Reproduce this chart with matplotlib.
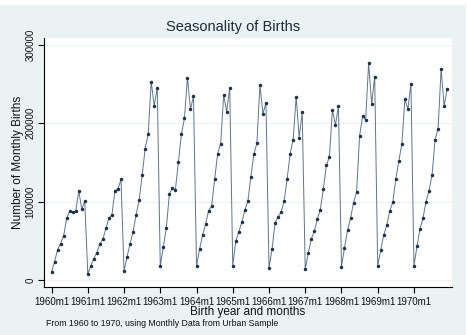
import matplotlib
matplotlib.use("Agg")
import matplotlib.pyplot as plt
import numpy as np
from matplotlib.patches import Rectangle

years = list(range(1960, 1971))
births_1960 = [10250, 23500, 38400, 46500, 56400, 78600, 87500, 86300, 87500, 113600, 90500, 100300]
births_1961 = [7700, 17900, 27300, 35000, 46100, 52100, 65800, 78600, 83300, 114000, 116100, 128100]
births_1962 = [11100, 29900, 46100, 61500, 83300, 101600, 133200, 167400, 186200, 252800, 221600, 245100]
births_1963 = [17900, 41800, 65800, 109300, 117000, 114900, 150300, 185700, 205800, 257900, 217800, 234000]
births_1964 = [17900, 38900, 57200, 70900, 88400, 93900, 128100, 161000, 173800, 235700, 214400, 245100]
births_1965 = [17900, 49500, 61500, 73400, 88800, 100300, 131500, 160600, 174200, 248500, 211800, 225500]
births_1966 = [15400, 38900, 72600, 80700, 86300, 100800, 128100, 161000, 178900, 233100, 181500, 213500]
births_1967 = [13700, 34200, 52100, 61900, 77700, 89700, 115700, 146000, 156700, 216900, 197300, 221600]
births_1968 = [17100, 41000, 63200, 78600, 98600, 111900, 183600, 208800, 203700, 276700, 224200, 259200]
births_1969 = [17900, 38400, 57200, 70000, 88000, 99100, 129000, 152000, 173400, 230200, 217800, 250200]
births_1970 = [17900, 42700, 64900, 79000, 99900, 113600, 134100, 178900, 193000, 269000, 221600, 243400]

births = (births_1960 + births_1961 + births_1962 + births_1963 + births_1964 +
          births_1965 + births_1966 + births_1967 + births_1968 + births_1969 + births_1970)
month_index = np.arange(len(births))
xtick_pos = [12 * i for i in range(len(years))]
xtick_labels = [f"{y}m1" for y in years]
ytick_pos = [0, 100000, 200000, 300000]
ytick_labels = ["0", "100000", "200000", "300000"]

plt.rcParams['font.family'] = ['Liberation Sans', 'DejaVu Sans']

bg = '#eaf2f3'
fig = plt.figure(figsize=(4.67, 3.35), dpi=100, facecolor='white')
fig.patches.append(Rectangle((0, 0), 466/467, 330/335, transform=fig.transFigure,
                             facecolor=bg, edgecolor='none', zorder=-10))

ax = fig.add_axes([44/467, 1 - 287/335, (452 - 44)/467, (287 - 38.3)/335])
ax.set_facecolor('white')
ax.plot(month_index, births, color='#5d7590', lw=0.7, marker='o', ms=1.5,
        mec='#1a3350', mfc='#1a3350', zorder=3)

ax.set_xlim(-2.5, 132.6)
ax.set_ylim(-8900, 307900)
ax.set_xticks(xtick_pos)
ax.set_xticklabels(xtick_labels, fontsize=7, color='#111111')
ax.set_yticks(ytick_pos)
ax.set_yticklabels(ytick_labels, fontsize=7, rotation=90, va='center', color='#111111')
ax.yaxis.grid(True, color=bg, lw=0.9, zorder=0)
ax.set_axisbelow(True)

for s in ['top', 'right']:
    ax.spines[s].set_visible(False)
for s in ['left', 'bottom']:
    ax.spines[s].set_color('black')
    ax.spines[s].set_linewidth(0.8)
ax.tick_params(axis='both', direction='out', length=4, width=0.8, color='black', pad=2)
ax.tick_params(axis='x', pad=3.5)

ax.set_xlabel('Birth year and months', fontsize=8.5, color='#111111', labelpad=-1)
ax.set_ylabel('Number of Monthly Births', fontsize=8.5, color='#111111', labelpad=1)

fig.text(0.5, 1 - 27/335, 'Seasonality of Births', ha='center', va='center',
         fontsize=10.5, color='#1e2a3e')
fig.text(46/467, 1 - 324/335, 'From 1960 to 1970, using Monthly Data from Urban Sample',
         ha='left', va='center', fontsize=6.3, color='#111111')

fig.savefig('out.png', dpi=100, facecolor=fig.get_facecolor())
